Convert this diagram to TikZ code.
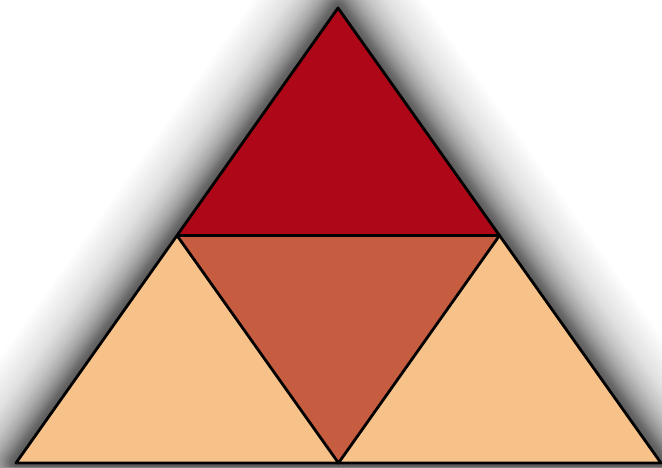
\documentclass[tikz,border=0pt]{standalone}
\usetikzlibrary{calc}
\begin{document}
\begin{tikzpicture}[x=1pt,y=-1pt,
  edge/.style={draw=black,line width=2.8pt,line join=round}]
\definecolor{topred}{RGB}{174,8,24}
\definecolor{midred}{RGB}{198,92,64}
\definecolor{sand}{RGB}{247,194,138}
\useasboundingbox (0,0) rectangle (662,467);
\clip (0,0) rectangle (662,467);
\fill[white] (0,0) rectangle (662,467);
\coordinate (T) at (338,8);
\coordinate (L) at (16,463);
\coordinate (R) at (661,463);
\coordinate (ML) at ($(T)!0.5!(L)$);
\coordinate (MR) at ($(T)!0.5!(R)$);
\coordinate (MB) at ($(L)!0.5!(R)$);
% soft shadow
\foreach \i [evaluate=\i as \op using {0.028*exp(-\i/28)},
             evaluate=\i as \w using {2*\i}] in {1,...,110}{
  \draw[black,opacity=\op,line width=\w pt,line join=round] (T) -- (L) -- (R) -- cycle;
}
\fill[topred] (T) -- (ML) -- (MR) -- cycle;
\fill[midred] (ML) -- (MR) -- (MB) -- cycle;
\fill[sand] (ML) -- (L) -- (MB) -- cycle;
\fill[sand] (MR) -- (MB) -- (R) -- cycle;
\draw[edge] (ML) -- (MR) -- (MB) -- cycle;
\draw[edge] (T) -- (L) -- (R) -- cycle;
\end{tikzpicture}
\end{document}
